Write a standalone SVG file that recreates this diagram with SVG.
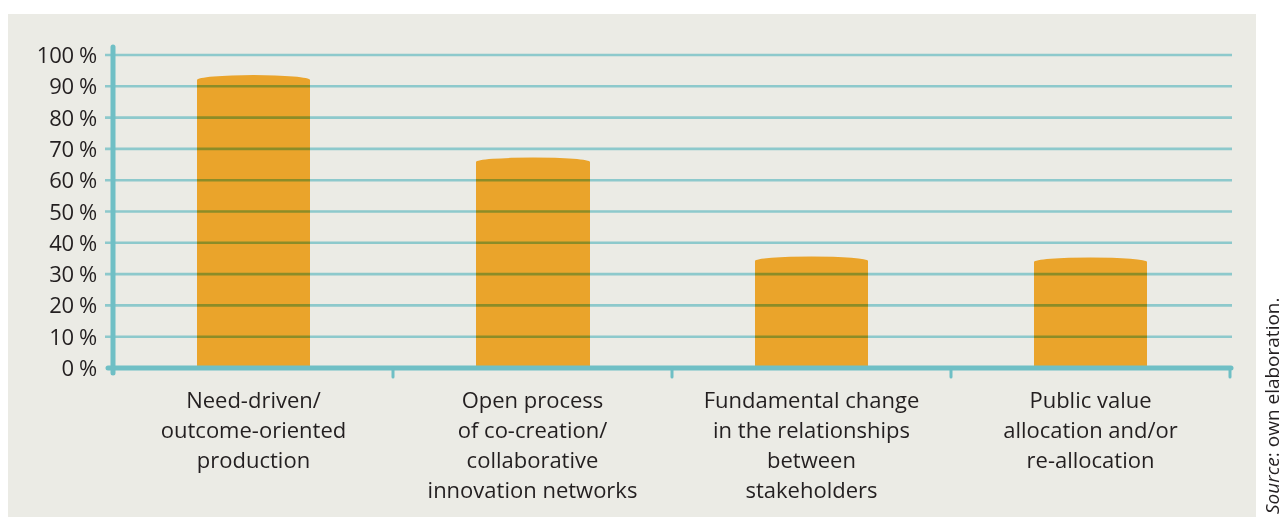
<svg xmlns="http://www.w3.org/2000/svg" width="1283" height="517" viewBox="0 0 1283 517">
<style>
.bg{fill:#EBEBE5}
.bar{fill:#EAA42B}
.grid{stroke:#99DAE3;stroke-width:2.6;mix-blend-mode:multiply;fill:none}
.axis{stroke:#6FBFC5;stroke-width:5;stroke-linecap:round;fill:none}
.tick{stroke:#6FBFC5;stroke-width:3;stroke-linecap:round;fill:none}
.yl{font-family:"Open Sans","DejaVu Sans",sans-serif;font-size:22px;fill:#231F20;text-anchor:end;letter-spacing:-0.3px}
.cl{font-family:"Open Sans","DejaVu Sans",sans-serif;font-size:22px;fill:#231F20;text-anchor:middle}
.src{font-family:"Open Sans","DejaVu Sans",sans-serif;font-size:19px;fill:#231F20}
</style>
<rect class="bg" x="8" y="14" width="1248" height="503"/>
<g id="bars">
<path id="bar1" class="bar" d="M197,366 V80 A56.5,5 0 0 1 310,80 V366 Z"/>
<path id="bar2" class="bar" d="M476,366 V162 A57,4.5 0 0 1 590,162 V366 Z"/>
<path id="bar3" class="bar" d="M755,366 V261 A56.5,4.5 0 0 1 868,261 V366 Z"/>
<path id="bar4" class="bar" d="M1034,366 V262 A56.5,4.5 0 0 1 1147,262 V366 Z"/>
</g>
<g id="connectors">
<g id="gridlines">
<line class="grid" x1="105" y1="55" x2="1232" y2="55"/>
<line class="grid" x1="105" y1="86.3" x2="1232" y2="86.3"/>
<line class="grid" x1="105" y1="117.6" x2="1232" y2="117.6"/>
<line class="grid" x1="105" y1="148.9" x2="1232" y2="148.9"/>
<line class="grid" x1="105" y1="180.2" x2="1232" y2="180.2"/>
<line class="grid" x1="105" y1="211.5" x2="1232" y2="211.5"/>
<line class="grid" x1="105" y1="242.8" x2="1232" y2="242.8"/>
<line class="grid" x1="105" y1="274.1" x2="1232" y2="274.1"/>
<line class="grid" x1="105" y1="305.4" x2="1232" y2="305.4"/>
<line class="grid" x1="105" y1="336.7" x2="1232" y2="336.7"/>
</g>
<line class="axis" x1="113" y1="47" x2="113" y2="373"/>
<line class="axis" x1="108" y1="368" x2="1231" y2="368"/>
<line class="tick" x1="393" y1="368" x2="393" y2="377"/>
<line class="tick" x1="672" y1="368" x2="672" y2="377"/>
<line class="tick" x1="951" y1="368" x2="951" y2="377"/>
<line class="tick" x1="1230" y1="368" x2="1230" y2="377"/>
</g>
<g id="ylabels">
<text class="yl" x="97" y="63">100 %</text>
<text class="yl" x="97" y="94.3">90 %</text>
<text class="yl" x="97" y="125.6">80 %</text>
<text class="yl" x="97" y="156.9">70 %</text>
<text class="yl" x="97" y="188.2">60 %</text>
<text class="yl" x="97" y="219.5">50 %</text>
<text class="yl" x="97" y="250.8">40 %</text>
<text class="yl" x="97" y="282.1">30 %</text>
<text class="yl" x="97" y="313.4">20 %</text>
<text class="yl" x="97" y="344.7">10 %</text>
<text class="yl" x="97" y="376">0 %</text>
</g>
<g id="cat1"><text class="cl" x="253.5" y="408">Need-driven/</text><text class="cl" x="253.5" y="438">outcome-oriented</text><text class="cl" x="253.5" y="468">production</text></g>
<g id="cat2"><text class="cl" x="532.5" y="408">Open process</text><text class="cl" x="532.5" y="438">of co-creation/</text><text class="cl" x="532.5" y="468">collaborative</text><text class="cl" x="532.5" y="498">innovation networks</text></g>
<g id="cat3"><text class="cl" x="811.5" y="408">Fundamental change</text><text class="cl" x="811.5" y="438">in the relationships</text><text class="cl" x="811.5" y="468">between</text><text class="cl" x="811.5" y="498">stakeholders</text></g>
<g id="cat4"><text class="cl" x="1090.5" y="408">Public value</text><text class="cl" x="1090.5" y="438">allocation and/or</text><text class="cl" x="1090.5" y="468">re-allocation</text></g>
<g id="source"><text class="src" transform="translate(1279,514) rotate(-90)"><tspan font-style="italic">Source</tspan>: own elaboration.</text></g>
</svg>
